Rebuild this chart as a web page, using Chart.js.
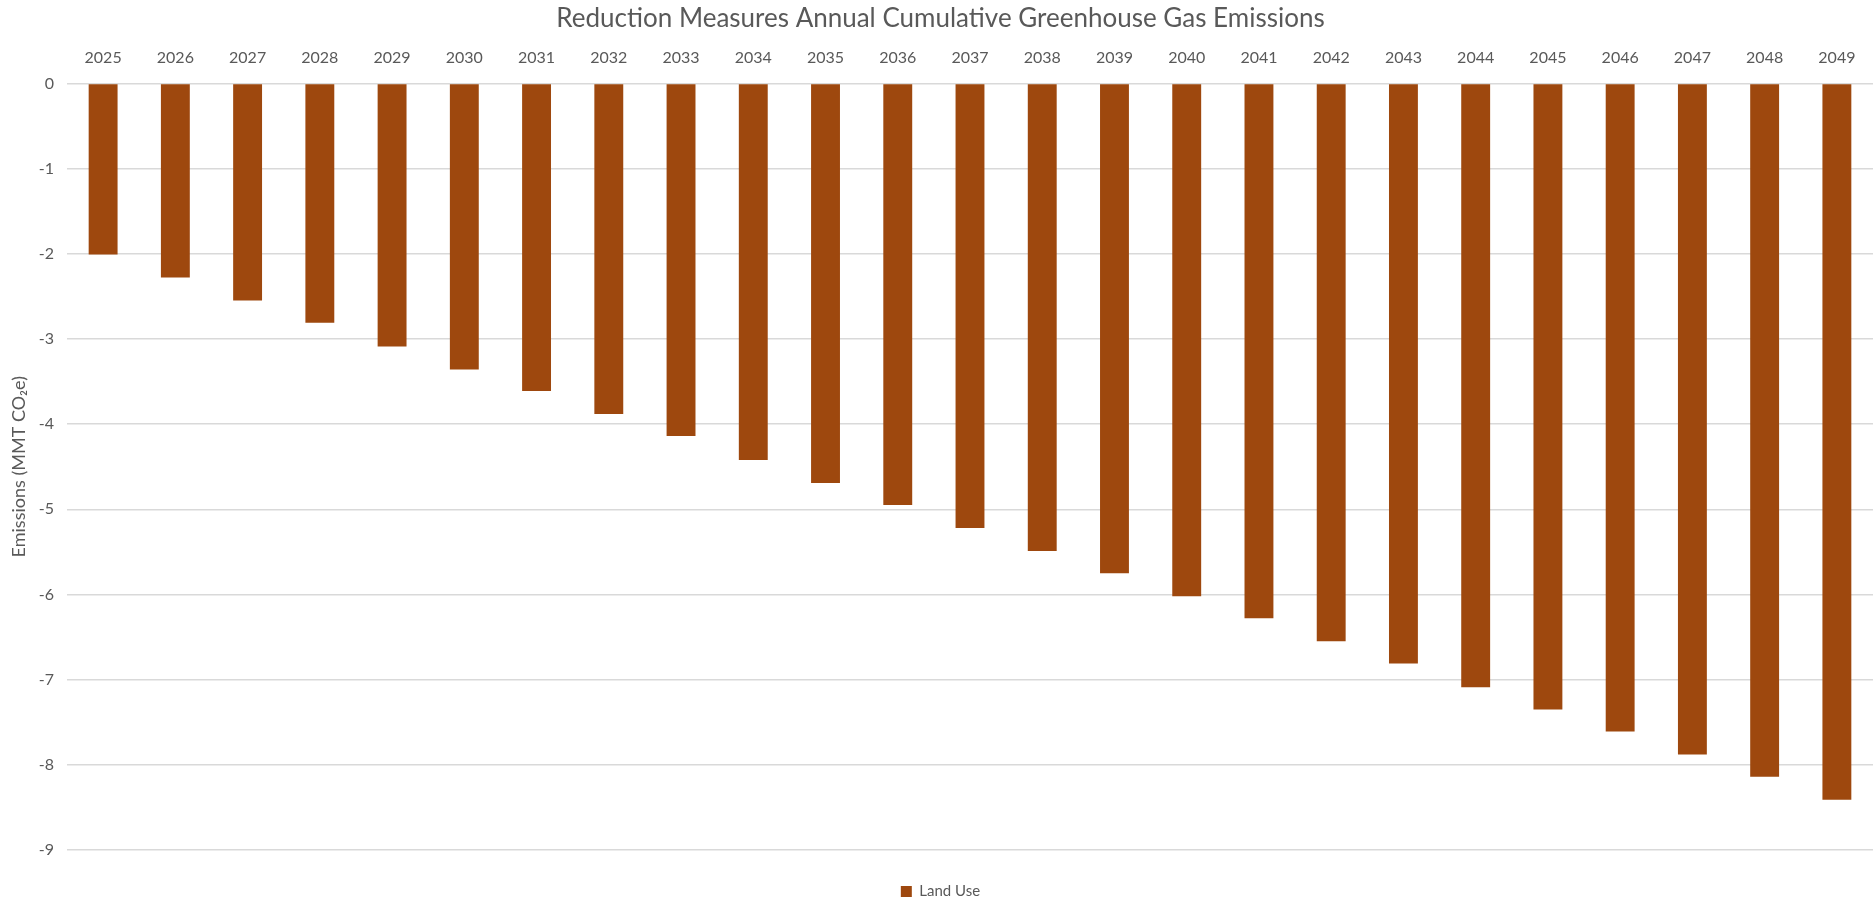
<!DOCTYPE html>
<html>
<head>
<meta charset="utf-8">
<script src="https://cdn.jsdelivr.net/npm/chart.js@4.4.0/dist/chart.umd.min.js"></script>
<style>
  html, body { margin: 0; padding: 0; background: #fff; }
  #wrap { width: 1873px; height: 899px; }
</style>
</head>
<body>
<div id="wrap"><canvas id="emChart"></canvas></div>
<script>
// data
const years = ["2025","2026","2027","2028","2029","2030","2031","2032","2033","2034","2035","2036",
  "2037","2038","2039","2040","2041","2042","2043","2044","2045","2046","2047","2048","2049"];
const landUse = [-2.01, -2.28, -2.55, -2.81, -3.09, -3.36, -3.61, -3.88, -4.14, -4.42, -4.69, -4.95,
  -5.22, -5.49, -5.75, -6.02, -6.28, -6.55, -6.81, -7.09, -7.35, -7.61, -7.88, -8.14, -8.41];
const yMin = -9, yMax = 0, yStep = 1;

const fontFam = "Lato, 'Open Sans', sans-serif";
const grey = "#595959";

// nudge the legend down a little (Chart.js leaves 10px under it)
const legendShift = {
  id: "legendShift",
  afterLayout(chart) {
    if (chart.legend) {
      chart.legend.top += 10;
      chart.legend.bottom += 10;
    }
  }
};

const ctx = document.getElementById("emChart").getContext("2d");
new Chart(ctx, {
  type: "bar",
  data: {
    labels: years,
    datasets: [{
      label: "Land Use",
      data: landUse,
      backgroundColor: "#9E480E",
      borderWidth: 0,
      barPercentage: 0.8,
      categoryPercentage: 0.5
    }]
  },
  plugins: [legendShift],
  options: {
    responsive: true,
    maintainAspectRatio: false,
    animation: false,
    layout: { padding: { left: 8, right: 0, top: 3, bottom: 0 } },
    plugins: {
      title: {
        display: true,
        text: "Reduction Measures Annual Cumulative Greenhouse Gas Emissions",
        color: grey,
        font: { family: fontFam, size: 26, weight: "normal" },
        padding: { top: 0, bottom: -2 }
      },
      legend: {
        position: "bottom",
        labels: {
          color: grey,
          font: { family: fontFam, size: 15 },
          boxWidth: 11,
          boxHeight: 11,
          padding: 2
        }
      },
      tooltip: { enabled: false }
    },
    scales: {
      x: {
        position: "top",
        grid: { display: false, drawTicks: false },
        border: { display: false },
        ticks: { color: grey, font: { family: fontFam, size: 16 }, padding: 16, maxRotation: 0 }
      },
      // empty bottom axis, only keeps the gap between plot and legend
      xGap: {
        type: "category",
        position: "bottom",
        grid: { display: false, drawTicks: false },
        border: { display: false },
        ticks: { display: false },
        afterFit: (scale) => { scale.height = 22; }
      },
      y: {
        min: yMin,
        max: yMax,
        afterFit: (scale) => { scale.width = 59; },
        ticks: { stepSize: yStep, color: grey, font: { family: fontFam, size: 16 }, padding: 13 },
        grid: { color: "#d9d9d9", lineWidth: 1.5, drawTicks: false },
        border: { display: false },
        title: {
          display: true,
          text: "Emissions (MMT CO\u2082e)",
          color: grey,
          font: { family: fontFam, size: 18 },
          padding: { top: 0, bottom: 0 }
        }
      }
    }
  }
});
</script>
</body>
</html>
